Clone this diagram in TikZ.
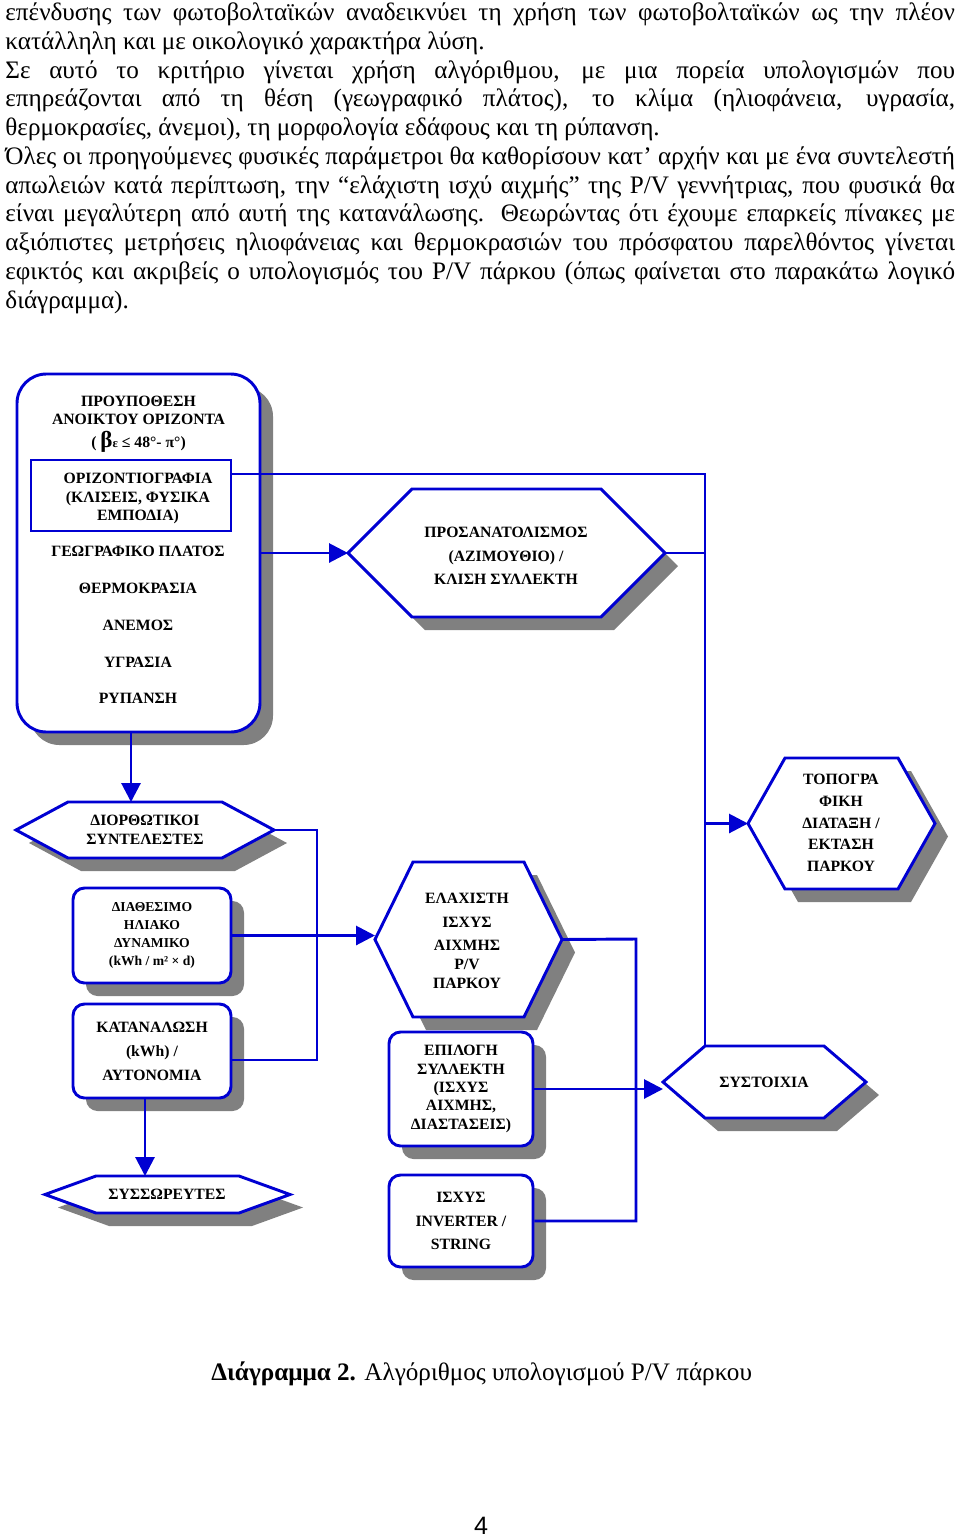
\documentclass[tikz,border=0pt]{standalone}
\usepackage{fontspec}
\setmainfont{Liberation Serif}
\newfontfamily\pagefont{Liberation Sans}
\usetikzlibrary{arrows.meta,shadows}
\definecolor{pvblue}{RGB}{0,0,210}
\definecolor{shadowgray}{RGB}{128,128,128}
\def\px{0.477pt}
% hexagon: name / centre x / centre y / half width / half height / tip depth
\newcommand\hexshape[6]{%
  \begin{scope}[shift={(#2,#3)}]
    \fill[shadowgray] (13-#4,13) -- (13-#4+#6,13-#5) -- (13+#4-#6,13-#5) -- (13+#4,13) -- (13+#4-#6,13+#5) -- (13-#4+#6,13+#5) -- cycle;
    \draw[hexline] (-#4,0) -- (-#4+#6,-#5) -- (#4-#6,-#5) -- (#4,0) -- (#4-#6,#5) -- (-#4+#6,#5) -- cycle;
    \coordinate (#1-w) at (-#4,0);
    \coordinate (#1-e) at (#4,0);
    \coordinate (#1-n) at (0,-#5);
    \coordinate (#1-nw) at (-#4+#6,-#5);
  \end{scope}}
\begin{document}
\begin{tikzpicture}[x=0.477pt,y=-0.477pt,
  wire/.style={draw=pvblue,line width=1.4pt},
  flow/.style={wire,-{Triangle[length=9pt,width=9pt]}},
  lbl/.style={align=center,inner sep=0pt,font=\bfseries\fontsize{7.5}{9}\selectfont},
  lsp/.style={font=\bfseries\fontsize{7.5}{#1}\selectfont},
  hexline/.style={draw=pvblue,line width=1.4pt,fill=white,line join=miter},
  rbox/.style={lbl,draw=pvblue,line width=1.4pt,fill=white,rounded corners=5.5pt,
    drop shadow={shadow xshift=6.2pt,shadow yshift=-6.2pt,fill=shadowgray,opacity=1}}]
\path[fill=white] (0,0) rectangle (960,1537);
\useasboundingbox (0,0) rectangle (960,1537);

% text above the diagram
\foreach \t/\j [count=\i] in {
  {επένδυσης των φωτοβολταϊκών αναδεικνύει τη χρήση των φωτοβολταϊκών ως την πλέον}/s,
  {κατάλληλη και με οικολογικό χαρακτήρα λύση.}/l,
  {Σε αυτό το κριτήριο γίνεται χρήση αλγόριθμου, με μια πορεία υπολογισμών που}/s,
  {επηρεάζονται από τη θέση (γεωγραφικό πλάτος), το κλίμα (ηλιοφάνεια, υγρασία,}/s,
  {θερμοκρασίες, άνεμοι), τη μορφολογία εδάφους και τη ρύπανση.}/l,
  {Όλες οι προηγούμενες φυσικές παράμετροι θα καθορίσουν κατ’ αρχήν και με ένα συντελεστή}/s,
  {απωλειών κατά περίπτωση, την “ελάχιστη ισχύ αιχμής” της P/V γεννήτριας, που φυσικά θα}/s,
  {είναι μεγαλύτερη από αυτή της κατανάλωσης. Θεωρώντας ότι έχουμε επαρκείς πίνακες με}/s,
  {αξιόπιστες μετρήσεις ηλιοφάνειας και θερμοκρασιών του πρόσφατου παρελθόντος γίνεται}/s,
  {εφικτός και ακριβείς ο υπολογισμός του P/V πάρκου (όπως φαίνεται στο παρακάτω λογικό}/s,
  {διάγραμμα).}/l}
  \node[anchor=base west,inner sep=0pt,font=\fontsize{12}{13.8}\selectfont] (txt\i) at (5,{20.5+28.75*(\i-1)}) {\makebox[453pt][\j]{\t}};

% left column
\node[rbox,rounded corners=14pt,minimum width=243*\px,minimum height=358*\px] (horizon) at (138.5,553) {};
\node[lbl,lsp=8.6] (cond) at (138.5,424) {ΠΡΟΥΠΟΘΕΣΗ\\ΑΝΟΙΚΤΟΥ ΟΡΙΖΟΝΤΑ\\[2.5pt]( {\fontsize{11}{11}\selectfont β}{\fontsize{6}{6}\selectfont ε} ≤ 48°- π°)};
\node[draw=pvblue,line width=1.4pt,fill=white,minimum width=200*\px,minimum height=71*\px] (profile) at (131,495.5) {};
\node[lbl,lsp=8.8] (profiletxt) at (138,498.5) {ΟΡΙΖΟΝΤΙΟΓΡΑΦΙΑ\\(ΚΛΙΣΕΙΣ, ΦΥΣΙΚΑ\\ΕΜΠΟΔΙΑ)};
\node[lbl] (lat) at (138,551) {ΓΕΩΓΡΑΦΙΚΟ ΠΛΑΤΟΣ};
\node[lbl] (temp) at (138,588) {ΘΕΡΜΟΚΡΑΣΙΑ};
\node[lbl] (wind) at (138,625) {ΑΝΕΜΟΣ};
\node[lbl] (hum) at (138,662) {ΥΓΡΑΣΙΑ};
\node[lbl] (poll) at (138,698) {ΡΥΠΑΝΣΗ};

\hexshape{corr}{145}{830}{129}{28}{52}
\node[lbl] (corrtxt) at (145,830) {ΔΙΟΡΘΩΤΙΚΟΙ\\ΣΥΝΤΕΛΕΣΤΕΣ};

\node[rbox,font=\bfseries\fontsize{6.5}{8.6}\selectfont,minimum width=158*\px,minimum height=95*\px] (solar) at (152,935.5) {ΔΙΑΘΕΣΙΜΟ\\ΗΛΙΑΚΟ\\ΔΥΝΑΜΙΚΟ\\(kWh / m² × d)};
\node[rbox,lsp=11.4,minimum width=158*\px,minimum height=94*\px] (load) at (152,1051) {ΚΑΤΑΝΑΛΩΣΗ\\(kWh) /\\ΑΥΤΟΝΟΜΙΑ};

\hexshape{batt}{167.5}{1194.5}{122.5}{18.5}{51}
\node[lbl] (batttxt) at (167,1194) {ΣΥΣΣΩΡΕΥΤΕΣ};

% middle column
\hexshape{orient}{506.5}{553}{158.5}{64}{64}
\node[lbl,lsp=11.2] (orienttxt) at (506,556) {ΠΡΟΣΑΝΑΤΟΛΙΣΜΟΣ\\(ΑΖΙΜΟΥΘΙΟ) /\\ΚΛΙΣΗ ΣΥΛΛΕΚΤΗ};

\hexshape{peak}{468.5}{939.5}{93.5}{77.5}{38}
\node[lbl] (peaktxt) at (467,941) {ΕΛΑΧΙΣΤΗ\\[2.4pt]ΙΣΧΥΣ\\[2pt]ΑΙΧΜΗΣ\\P/V\\ΠΑΡΚΟΥ};

\node[rbox,lsp=8.8,minimum width=144*\px,minimum height=114*\px] (module) at (461,1089) {ΕΠΙΛΟΓΗ\\ΣΥΛΛΕΚΤΗ\\(ΙΣΧΥΣ\\ΑΙΧΜΗΣ,\\ΔΙΑΣΤΑΣΕΙΣ)};
\node[rbox,lsp=11.4,minimum width=144*\px,minimum height=92*\px] (inverter) at (461,1221) {ΙΣΧΥΣ\\INVERTER /\\STRING};

% right column
\hexshape{topo}{841.5}{823.5}{93.5}{65.5}{37}
\node[lbl,lsp=10.4] (topotxt) at (841,823) {ΤΟΠΟΓΡΑ\\ΦΙΚΗ\\ΔΙΑΤΑΞΗ /\\ΕΚΤΑΣΗ\\ΠΑΡΚΟΥ};

\hexshape{array}{764.5}{1082}{101.5}{36}{42}
\node[lbl] (arraytxt) at (764,1082) {ΣΥΣΤΟΙΧΙΑ};

% connectors
\coordinate (busN) at (705,474);
\coordinate (k1) at (317,830);
\coordinate (k2) at (636,939);
\coordinate (h1) at ([xshift=-7.5*\px]horizon.south);
\coordinate (l1) at ([xshift=-7*\px]load.south);
\draw[wire] (profile.east |- busN) -- (busN) -- (array-nw);
\draw[wire] (orient-e) -- (orient-e -| busN);
\draw[flow] (busN |- topo-w) -- (topo-w);
\draw[flow] (horizon.east |- orient-w) -- (orient-w);
\draw[flow] (h1) -- (h1 |- corr-n);
\draw[wire] (corr-e) -- (k1) |- ([yshift=-4.3pt]load.east);
\draw[flow] (solar.east) -- (solar.east -| peak-w);
\draw[wire] (peak-e) -- (k2) |- (inverter.east);
\draw[flow] (module.east) -- (module.east -| array-w);
\draw[flow] (l1) -- (l1 |- batt-n);

% caption and page number
\node[anchor=base west,inner sep=0pt,font=\fontsize{12}{14}\selectfont] (caption) at (211,1380) {\textbf{Διάγραμμα 2.} Αλγόριθμος υπολογισμού P/V πάρκου};
\node[anchor=base,inner sep=0pt,font=\pagefont\fontsize{12}{14}\selectfont] (pagenum) at (481,1534) {4};
\end{tikzpicture}
\end{document}
